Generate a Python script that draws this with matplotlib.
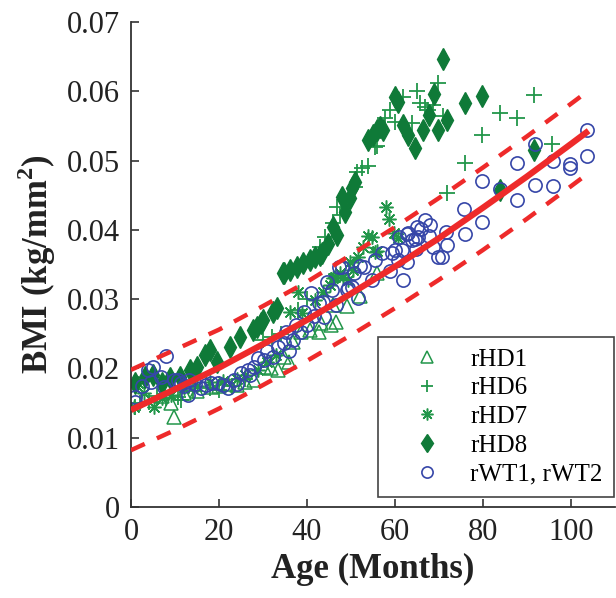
import matplotlib
matplotlib.use("Agg")
import matplotlib.pyplot as plt

plt.rcParams['font.family'] = ['Liberation Serif', 'DejaVu Serif']
plt.rcParams['mathtext.fontset'] = 'custom'
plt.rcParams['mathtext.rm'] = 'Liberation Serif'
plt.rcParams['mathtext.bf'] = 'Liberation Serif:bold'

# ---------------- data ----------------
hd1_age = [7, 9.0, 9.8, 12, 15, 18.2, 20, 22, 24, 26, 28, 30.2, 31.8, 33.4, 34.8, 35.9,
           36.8, 38.6, 40.7, 42.7, 43.2, 45.5, 46.6, 46.0, 49, 52, 56]
hd1_bmi = [0.016, 0.015, 0.013, 0.0165, 0.0168, 0.0173, 0.0175, 0.0178, 0.0176, 0.018, 0.0183,
           0.0202, 0.0201, 0.0198, 0.0216, 0.0209, 0.0238, 0.0253, 0.0255, 0.0253, 0.0265,
           0.0263, 0.0267, 0.0291, 0.029, 0.0305, 0.0338]

hd6_age = [1, 2, 4, 6, 8, 10.7, 11.4, 14, 18, 20, 23, 26, 30, 32, 34, 38, 40,
           42.9, 44.1, 46.0, 46.8, 47.5, 50.9, 51.4, 52.5, 53.9, 55.5, 55.9, 57.7, 58.9,
           60.0, 61.8, 63.9, 65.0, 65.7, 66.8, 67.5, 68.6, 69.8, 70.9, 71.8, 75.9, 79.8,
           83.9, 87.7, 91.6, 95.7]
hd6_bmi = [0.0145, 0.015, 0.0152, 0.016, 0.0158, 0.0159, 0.0154, 0.0168, 0.0172, 0.0169,
           0.0175, 0.0185, 0.0241, 0.0245, 0.025, 0.0285, 0.030,
           0.0375, 0.039, 0.041, 0.0433, 0.0421, 0.0462, 0.0483, 0.0489, 0.0492, 0.052,
           0.0521, 0.0561, 0.0573, 0.0556, 0.0592, 0.0554, 0.060, 0.0583, 0.0578, 0.0573,
           0.058, 0.0612, 0.0565, 0.0453, 0.0497, 0.0537, 0.0569, 0.0561, 0.0595, 0.0524]

hd7_age = [0.7, 1.6, 3, 5.2, 7, 9, 12, 15, 18, 21, 24, 26, 28.9, 31, 33, 36.1, 38.0, 38.9,
           41.8, 43.6, 45.2, 46.0, 46.4, 47.5, 48.2, 49.3, 49.8, 50.5, 51.6, 52.7, 53.9,
           54.8, 55.5, 55.9, 58.0, 58.6, 59.8, 60.7]
hd7_bmi = [0.0144, 0.0179, 0.0165, 0.0144, 0.0158, 0.0162, 0.0172, 0.0175, 0.018, 0.0182,
           0.0185, 0.019, 0.0198, 0.0209, 0.022, 0.0281, 0.031, 0.028, 0.0299, 0.031, 0.032,
           0.033, 0.0332, 0.0338, 0.0332, 0.0328, 0.0354, 0.0342, 0.0361, 0.0375, 0.0391,
           0.039, 0.0368, 0.0369, 0.0433, 0.0416, 0.0395, 0.0388]

hd8_age = [0.9, 3.2, 5.0, 7.0, 8.9, 11.1, 13.4, 15.0, 16.8, 18.0, 19.5, 22.5, 24.8, 27.7,
           28.6, 29.5, 30.0, 32.3, 33.2, 34.5, 34.8, 36.1, 37.7, 39.1, 40.7, 41.8, 43.0,
           43.4, 44.8, 46.0, 46.8, 48.0, 48.6, 49.8, 50.2, 50.9, 53.9, 55.0, 55.9, 56.6,
           57.3, 60.0, 60.7, 61.8, 63.0, 64.5, 66.4, 67.7, 68.9, 69.8, 70.9, 71.8, 75.9,
           79.8, 83.9, 91.6]
hd8_bmi = [0.0179, 0.0188, 0.019, 0.0179, 0.0186, 0.0188, 0.0198, 0.0202, 0.0219, 0.0227,
           0.0209, 0.0231, 0.0245, 0.0255, 0.026, 0.0265, 0.027, 0.0281, 0.0287, 0.0338,
           0.0338, 0.0342, 0.0346, 0.0352, 0.0356, 0.0361, 0.0364, 0.0367, 0.038, 0.0404,
           0.0392, 0.0447, 0.0426, 0.0446, 0.046, 0.0469, 0.053, 0.0537, 0.0544, 0.0548,
           0.0544, 0.0592, 0.0584, 0.0551, 0.0537, 0.0518, 0.0544, 0.0566, 0.0596, 0.0544,
           0.0646, 0.0558, 0.0583, 0.0593, 0.0457, 0.0515]

wt_age = [0.9, 0.9, 2.5, 3.9, 4.5, 5.0, 6.8, 7.5, 8.0, 9.8, 10.7, 11.4, 12, 13.0, 13.2,
          14.5, 15.9, 17, 18.2, 19.8, 21, 22.0, 23.4, 24, 25.0, 26.6, 27, 28.0, 28.9, 30.2,
          31, 32.3, 33.4, 34.8, 35.2, 36, 36.8, 37.5, 38.6, 39.3, 40, 40.9, 41.5, 42.7,
          43.6, 43.9, 44.5, 45.7, 46.6, 47.3, 48.0, 49.0, 49.3, 50.2, 50.7, 51.6, 52.0,
          53.0, 54.8, 55.5, 57.0, 58.9, 59.3, 60.0, 60.7, 61.0, 61.6, 61.8, 62.7, 62.7,
          63.0, 63.9, 64.5, 64.8, 65.0, 65.2, 65.9, 66.8, 67.7, 68.0, 68.7, 69.8, 70.7,
          71.6, 71.8, 75.7, 75.9, 79.8, 79.8, 83.9, 87.7, 87.7, 91.8, 91.8, 95.9, 95.9,
          99.8, 99.8, 103.6, 103.6]
wt_bmi = [0.0159, 0.0152, 0.0175, 0.0198, 0.018, 0.0202, 0.0188, 0.0173, 0.0218, 0.0183,
          0.0183, 0.0179, 0.0175, 0.0162, 0.0183, 0.0178, 0.0172, 0.0176, 0.0179, 0.0179,
          0.0176, 0.0172, 0.0183, 0.0178, 0.0193, 0.0198, 0.019, 0.0202, 0.0215, 0.0212,
          0.0225, 0.0216, 0.0231, 0.0237, 0.0253, 0.0225, 0.0241, 0.0262, 0.0253, 0.0281,
          0.0262, 0.0309, 0.0275, 0.0294, 0.0296, 0.0274, 0.0325, 0.0313, 0.0291, 0.0346,
          0.0346, 0.0313, 0.0316, 0.0318, 0.0338, 0.0302, 0.0348, 0.0346, 0.0328, 0.0357,
          0.0367, 0.0341, 0.0367, 0.0371, 0.0357, 0.039, 0.0371, 0.0328, 0.0394, 0.0354,
          0.0395, 0.0385, 0.0387, 0.0372, 0.0404, 0.039, 0.0401, 0.0414, 0.0391, 0.0407,
          0.0375, 0.0361, 0.0361, 0.0397, 0.0378, 0.043, 0.0394, 0.047, 0.0411, 0.0459,
          0.0496, 0.0443, 0.0524, 0.0465, 0.0499, 0.0463, 0.0489, 0.0495, 0.0544, 0.0506]

fit_age = [0, 10, 20, 30, 40, 50, 60, 70, 80, 90, 100, 104]
fit_bmi = [0.0140, 0.0170, 0.0201, 0.0235, 0.0270, 0.0308, 0.0347, 0.0388, 0.0432, 0.0477,
           0.0524, 0.0543]
upper_bmi = [0.0198, 0.0227, 0.0256, 0.0290, 0.0325, 0.0364, 0.0404, 0.0446, 0.0490,
             0.0535, 0.0582, 0.0601]
lower_bmi = [0.0082, 0.0111, 0.0142, 0.0176, 0.0211, 0.0248, 0.0287, 0.0328, 0.0371,
             0.0416, 0.0463, 0.0482]

x_ticks = [0, 20, 40, 60, 80, 100]
y_ticks = [0, 0.01, 0.02, 0.03, 0.04, 0.05, 0.06, 0.07]
y_tick_labels = ['0', '0.01', '0.02', '0.03', '0.04', '0.05', '0.06', '0.07']
labels = ['rHD1', 'rHD6', 'rHD7', 'rHD8', 'rWT1, rWT2']

# ---------------- plot ----------------
green = '#22964a'
dgreen = '#0f7a38'
blue = '#3646a8'
red = '#ee2a2a'

fig = plt.figure(figsize=(6.16, 5.98), dpi=100)
ax = fig.add_axes([131 / 616, 91 / 598, 484 / 616, 485 / 598])

ax.plot(hd1_age, hd1_bmi, linestyle='none', marker='^', markersize=9.5,
        markerfacecolor='none', markeredgecolor=green, markeredgewidth=1.1, label=labels[0])
ax.plot(hd6_age, hd6_bmi, linestyle='none', marker='+', markersize=11,
        markeredgecolor=green, markeredgewidth=1.3, label=labels[1])
ax.plot(hd7_age, hd7_bmi, linestyle='none', marker=(8, 2, 0), markersize=10,
        markeredgecolor=green, markeredgewidth=1.1, label=labels[2])
ax.plot(hd8_age, hd8_bmi, linestyle='none', marker='d', markersize=11,
        markerfacecolor=dgreen, markeredgecolor=dgreen, markeredgewidth=1.0, label=labels[3])
ax.plot(wt_age, wt_bmi, linestyle='none', marker='o', markersize=9.5,
        markerfacecolor='none', markeredgecolor=blue, markeredgewidth=1.2, label=labels[4])

ax.plot(fit_age, fit_bmi, color=red, linewidth=4.5, solid_capstyle='butt', zorder=5)
ax.plot(fit_age, upper_bmi, color=red, linewidth=3.2, dashes=(3.4, 3.0), zorder=5)
ax.plot(fit_age, lower_bmi, color=red, linewidth=3.2, dashes=(3.4, 3.0), zorder=5)

ax.set_xlim(0, 110)
ax.set_ylim(0, 0.07)
ax.set_xticks(x_ticks)
ax.set_yticks(y_ticks)
ax.set_yticklabels(y_tick_labels)
for s in ['top', 'right']:
    ax.spines[s].set_visible(False)
for s in ['left', 'bottom']:
    ax.spines[s].set_color('#333333')
    ax.spines[s].set_linewidth(1.3)
ax.tick_params(direction='in', length=6, width=1.2, colors='#333333',
               labelsize=22, labelcolor='#222222', pad=8)

ax.set_xlabel('Age (Months)', fontsize=25, fontweight='bold', color='#222222', labelpad=4)
ax.set_ylabel(r'BMI (kg/mm$^{\mathbf{2}}$)', fontsize=25, fontweight='bold',
              color='#222222', labelpad=6)

leg = ax.legend(loc='lower right', bbox_to_anchor=(0.998, 0.021), borderaxespad=0,
                fontsize=18, handlelength=3.0, handletextpad=0.25, borderpad=0.45,
                labelspacing=0.25, markerscale=0.85, fancybox=False, framealpha=1,
                edgecolor='#444444')
leg.get_frame().set_linewidth(1.2)
leg.set_zorder(10)

fig.savefig('out.png', dpi=100)
